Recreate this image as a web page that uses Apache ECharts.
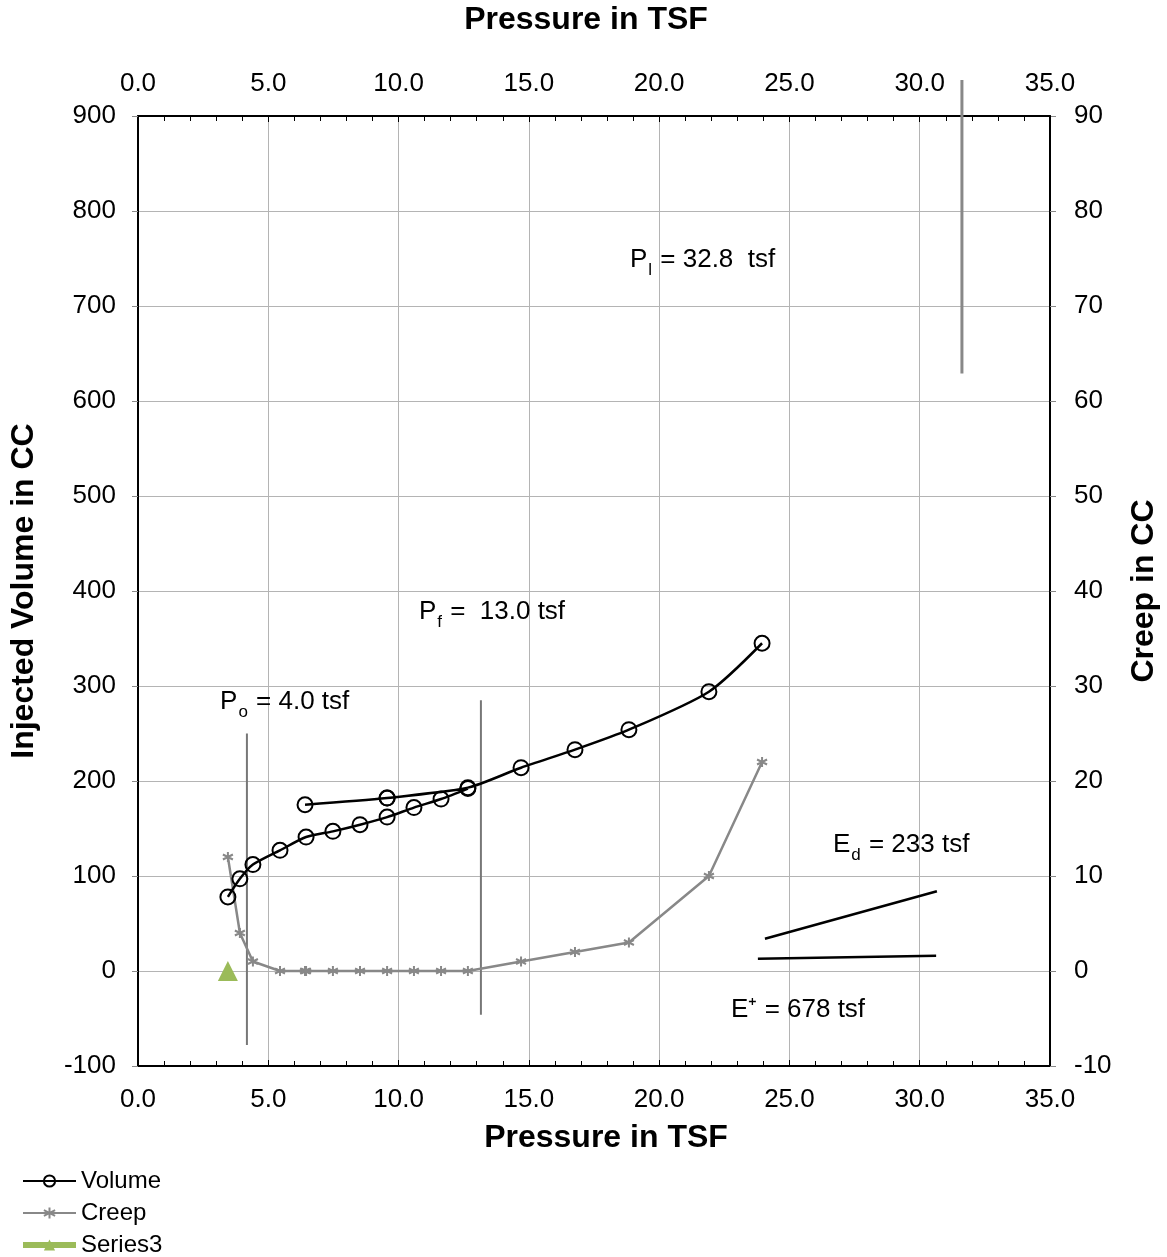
<!DOCTYPE html>
<html>
<head>
<meta charset="utf-8">
<script src="https://cdn.jsdelivr.net/npm/echarts@6/dist/echarts.min.js"></script>
<style>
  html, body { margin: 0; padding: 0; background: #fff; }
  #chart { width: 1167px; height: 1257px; }
</style>
</head>
<body>
<div id="chart"></div>
<script>
// 压力 vs 注入体积 / 蠕变
var volume = [
  [3.45, 78], [3.91, 97], [4.41, 112], [5.45, 127], [6.45, 141], [7.48, 147],
  [8.52, 154], [9.56, 162], [10.59, 172], [11.63, 181], [12.66, 192],
  [9.56, 182], [6.41, 175], [9.56, 182], [12.66, 193],
  [14.70, 214], [16.77, 233], [18.84, 254], [21.91, 294], [23.95, 345]
];
var creep = [
  [3.45, 12], [3.91, 4], [4.41, 1], [5.45, 0], [6.41, 0], [6.45, 0], [7.48, 0],
  [8.52, 0], [9.56, 0], [10.59, 0], [11.63, 0], [12.66, 0],
  [14.70, 1], [16.77, 2], [18.84, 3], [21.91, 10], [23.95, 22]
];
var series3 = [[3.45, 0]];

// 标注线
var poLine = [[4.18, 250], [4.18, -78]];
var pfLine = [[13.16, 285], [13.16, -46]];
var plLine = [[31.62, 938], [31.62, 629]];
var edLine = [[24.06, 34], [30.66, 84]];
var eLine = [[23.79, 13], [30.63, 16]];

var xTicks = { min: 0, max: 35, interval: 5 };
var leftTicks = { min: -100, max: 900, interval: 100 };
var rightTicks = { min: -10, max: 90, interval: 10 };

const myChart = echarts.init(document.getElementById('chart'));
const FONT = 'Liberation Sans, Arial, sans-serif';

function xAxisCfg (pos, showSplit) {
  return {
    type: 'value',
    position: pos,
    min: xTicks.min,
    max: xTicks.max,
    interval: xTicks.interval,
    name: 'Pressure in TSF',
    nameLocation: 'middle',
    nameGap: pos === 'top' ? 80 : 56,
    nameTextStyle: {
      fontSize: 32, fontWeight: 'bold', color: '#000', fontFamily: FONT,
      padding: pos === 'top' ? [0, 16, 0, 0] : [0, 0, 0, 24]
    },
    axisLine: { show: true, onZero: false, lineStyle: { color: '#000', width: 2 } },
    axisTick: { show: true, inside: true, length: 6, lineStyle: { color: '#000', width: 1 } },
    minorTick: { show: true, splitNumber: 5, length: 5, lineStyle: { color: '#000' } },
    axisLabel: {
      fontSize: 26, color: '#000', fontFamily: FONT, margin: pos === 'top' ? 19 : 21,
      formatter: function (v) { return v.toFixed(1); }
    },
    splitLine: { show: showSplit, lineStyle: { color: '#b4b4b4', width: 1 } }
  };
}

const option = {
  animation: false,
  textStyle: { fontFamily: FONT },
  grid: { left: 138, right: 117, top: 116, bottom: 191, containLabel: false, outerBoundsMode: 'none' },
  legend: {
    orient: 'vertical',
    left: 20,
    top: 1169,
    padding: 0,
    itemWidth: 53,
    itemHeight: 14,
    itemGap: 8,
    textStyle: { fontSize: 24, color: '#000', fontFamily: FONT },
    data: ['Volume', 'Creep', { name: 'Series3', lineStyle: { width: 6 } }]
  },
  xAxis: [xAxisCfg('bottom', true), xAxisCfg('top', false)],
  yAxis: [{
    type: 'value',
    position: 'left',
    min: leftTicks.min,
    max: leftTicks.max,
    interval: leftTicks.interval,
    name: 'Injected Volume in CC',
    nameLocation: 'middle',
    nameRotate: 90,
    nameGap: 98,
    nameTextStyle: { fontSize: 32, fontWeight: 'bold', color: '#000', fontFamily: FONT },
    axisLine: { show: true, onZero: false, lineStyle: { color: '#000', width: 2 } },
    axisTick: { show: true, length: 6, lineStyle: { color: '#888' } },
    axisLabel: { fontSize: 26, color: '#000', fontFamily: FONT, margin: 22 },
    splitLine: { show: true, lineStyle: { color: '#b4b4b4', width: 1 } }
  }, {
    type: 'value',
    position: 'right',
    min: rightTicks.min,
    max: rightTicks.max,
    interval: rightTicks.interval,
    name: 'Creep in CC',
    nameLocation: 'middle',
    nameRotate: 90,
    nameGap: 78,
    nameTextStyle: { fontSize: 32, fontWeight: 'bold', color: '#000', fontFamily: FONT },
    axisLine: { show: true, onZero: false, lineStyle: { color: '#000', width: 2 } },
    axisTick: { show: true, length: 6, lineStyle: { color: '#888' } },
    axisLabel: { fontSize: 26, color: '#000', fontFamily: FONT, margin: 24 },
    splitLine: { show: false }
  }],
  series: [{
    name: 'Volume',
    type: 'line',
    data: volume,
    smooth: 0.25,
    symbol: 'circle',
    symbolSize: 15,
    itemStyle: { color: 'rgba(0,0,0,0)', borderColor: '#000', borderWidth: 2 },
    lineStyle: { color: '#000', width: 2.5 },
    z: 5
  }, {
    name: 'Creep',
    type: 'line',
    yAxisIndex: 1,
    data: creep,
    symbol: 'path://M0,-1L0,1M-0.87,-0.5L0.87,0.5M-0.87,0.5L0.87,-0.5',
    symbolSize: 10,
    itemStyle: { color: '#888', borderColor: '#888', borderWidth: 2 },
    lineStyle: { color: '#888', width: 2.5 },
    z: 4
  }, {
    name: 'Series3',
    type: 'line',
    data: series3,
    symbol: 'triangle',
    symbolSize: 20,
    itemStyle: { color: '#9bbb59' },
    lineStyle: { color: '#9bbb59', width: 6 },
    z: 6
  }, {
    name: 'po', type: 'line', data: poLine, symbol: 'none', silent: true,
    lineStyle: { color: '#777', width: 2 }
  }, {
    name: 'pf', type: 'line', data: pfLine, symbol: 'none', silent: true,
    lineStyle: { color: '#777', width: 2 }
  }, {
    name: 'pl', type: 'line', data: plLine, symbol: 'none', silent: true, clip: false,
    lineStyle: { color: '#888', width: 3 }
  }, {
    name: 'ed', type: 'line', data: edLine, symbol: 'none', silent: true,
    lineStyle: { color: '#000', width: 2.5 }
  }, {
    name: 'e', type: 'line', data: eLine, symbol: 'none', silent: true,
    lineStyle: { color: '#000', width: 2.5 }
  }],
  graphic: []
};

myChart.setOption(option);

// 文本标注(带下标)
var rich = {
  a: { fontSize: 26, fontFamily: FONT, color: '#000', lineHeight: 32, verticalAlign: 'top' },
  s: { fontSize: 17, fontFamily: FONT, color: '#000', lineHeight: 32, verticalAlign: 'bottom', padding: [15, 1, 0, 1] }
};
function note (x, y, txt) {
  var p = myChart.convertToPixel({ gridIndex: 0 }, [x, y]);
  return {
    type: 'text', x: p[0], y: p[1], silent: true, z: 20,
    style: { text: txt, rich: rich, verticalAlign: 'middle', align: 'left' }
  };
}
myChart.setOption({
  graphic: [
    note(3.15, 280, '{a|P}{s|o}{a| = 4.0 tsf}'),
    note(10.78, 375, '{a|P}{s|f}{a| =  13.0 tsf}'),
    note(18.88, 745, '{a|P}{s|l}{a| = 32.8  tsf}'),
    note(26.67, 130, '{a|E}{s|d}{a| = 233 tsf}'),
    note(22.76, -44, '{a|E⁺ = 678 tsf}')
  ]
});

window.addEventListener('resize', function () {
  myChart.resize();
});
</script>
</body>
</html>
